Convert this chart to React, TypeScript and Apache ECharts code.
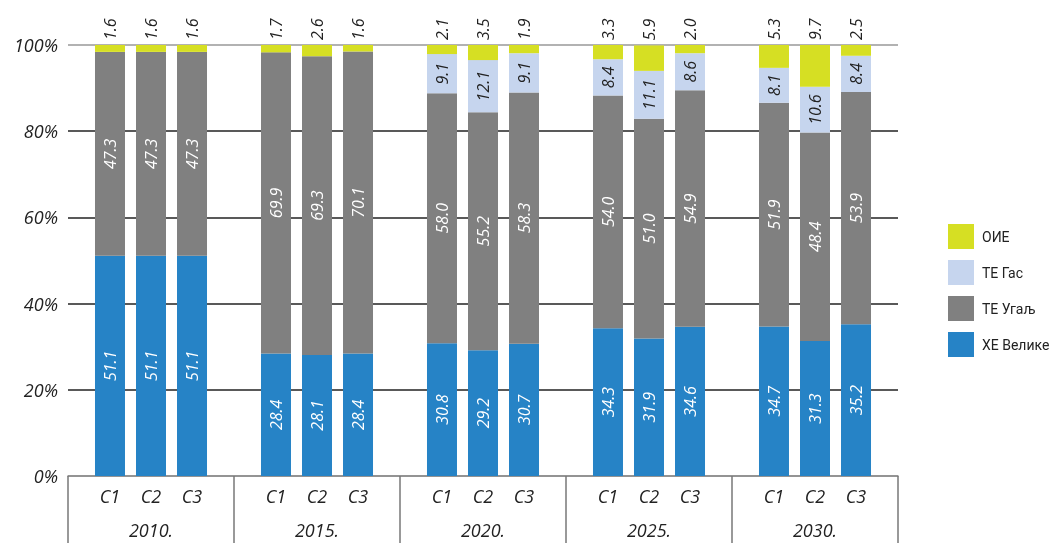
import React, { useEffect, useRef } from "react";
import * as echarts from "echarts";

const years = ["2010.", "2015.", "2020.", "2025.", "2030."];
const scenarios = ["C1", "C2", "C3"];
const yTicks = [0, 20, 40, 60, 80, 100];

// values per scenario [C1, C2, C3], each across years
const hydro = [
  [51.1, 28.4, 30.8, 34.3, 34.7],
  [51.1, 28.1, 29.2, 31.9, 31.3],
  [51.1, 28.4, 30.7, 34.6, 35.2],
];
const coal = [
  [47.3, 69.9, 58.0, 54.0, 51.9],
  [47.3, 69.3, 55.2, 51.0, 48.4],
  [47.3, 70.1, 58.3, 54.9, 53.9],
];
const gas = [
  [0, 0, 9.1, 8.4, 8.1],
  [0, 0, 12.1, 11.1, 10.6],
  [0, 0, 9.1, 8.6, 8.4],
];
const res = [
  [1.6, 1.7, 2.1, 3.3, 5.3],
  [1.6, 2.6, 3.5, 5.9, 9.7],
  [1.6, 1.6, 1.9, 2.0, 2.5],
];

const components = [
  { name: "ХЕ Велике", data: hydro, color: "#2683c6", labelColor: "#ffffff", top: false },
  { name: "ТЕ Угаљ", data: coal, color: "#808080", labelColor: "#ffffff", top: false },
  { name: "ТЕ Гас", data: gas, color: "#c6d5ee", labelColor: "#222222", top: false },
  { name: "ОИЕ", data: res, color: "#d6df23", labelColor: "#222222", top: true },
];
const legendOrder = ["ОИЕ", "ТЕ Гас", "ТЕ Угаљ", "ХЕ Велике"];

const FONT = "'Open Sans', sans-serif";

export default function App() {
  const ref = useRef<HTMLDivElement>(null);
  useEffect(() => {
    if (!ref.current) return;
    const chart = echarts.init(ref.current, null, { renderer: "svg" });
    const series: any[] = [];
    components.forEach((c) => {
      scenarios.forEach((s, si) => {
        series.push({
          type: "bar",
          name: c.name,
          stack: s,
          barWidth: 30,
          barGap: "36.7%",
          itemStyle: { color: c.color },
          data: c.data[si],
          label: c.top
            ? {
                show: true,
                position: "top",
                rotate: 90,
                align: "left",
                verticalAlign: "middle",
                distance: 5,
                color: c.labelColor,
                fontFamily: FONT,
                fontStyle: "italic",
                fontSize: 16,
                formatter: (p: any) => (p.value ? p.value.toFixed(1) : ""),
              }
            : {
                show: true,
                position: "inside",
                rotate: 90,
                color: c.labelColor,
                fontFamily: FONT,
                fontStyle: "italic",
                fontSize: 16,
                formatter: (p: any) => (p.value ? p.value.toFixed(1) : ""),
              },
        });
      });
    });
    chart.setOption({
      animation: false,
      grid: { left: 68, right: 158, top: 45, bottom: 67 },
      legend: {
        data: legendOrder,
        orient: "vertical",
        left: 943,
        top: 219,
        itemWidth: 26,
        itemHeight: 25,
        itemGap: 11,
        icon: "rect",
        textStyle: {
          fontFamily: "Roboto, sans-serif",
          fontSize: 14,
          color: "#222",
          padding: [0, 0, 0, 3],
        },
      },
      xAxis: {
        type: "category",
        data: years,
        axisLine: { show: true, lineStyle: { color: "#8a8a8a", width: 1.5 } },
        axisTick: {
          show: true,
          interval: 0,
          length: 67,
          lineStyle: { color: "#777", width: 1.5 },
        },
        axisLabel: {
          interval: 0,
          margin: 3,
          formatter: (v: string) =>
            scenarios.map((s) => `{c|${s}}`).join("") + `\n{y|${v}}`,
          rich: {
            c: {
              width: 41,
              align: "center",
              fontFamily: FONT,
              fontStyle: "italic",
              fontSize: 18,
              color: "#222",
              lineHeight: 34,
            },
            y: {
              fontFamily: FONT,
              fontStyle: "italic",
              fontSize: 18,
              color: "#222",
              lineHeight: 34,
            },
          },
        },
      },
      yAxis: {
        type: "value",
        min: yTicks[0],
        max: yTicks[yTicks.length - 1],
        interval: 20,
        axisLine: { show: false },
        axisTick: { show: false },
        axisLabel: {
          formatter: "{value}%",
          margin: 10,
          fontFamily: FONT,
          fontStyle: "italic",
          fontSize: 18,
          color: "#222",
        },
        splitLine: {
          lineStyle: {
            color: ["#999", "#222", "#222", "#222", "#222", "#999"],
            width: 1.5,
          },
        },
      },
      series,
    });
    return () => chart.dispose();
  }, []);
  return (
    <div
      ref={ref}
      style={{ position: "fixed", left: 0, top: 0, width: 1056, height: 543 }}
    />
  );
}
